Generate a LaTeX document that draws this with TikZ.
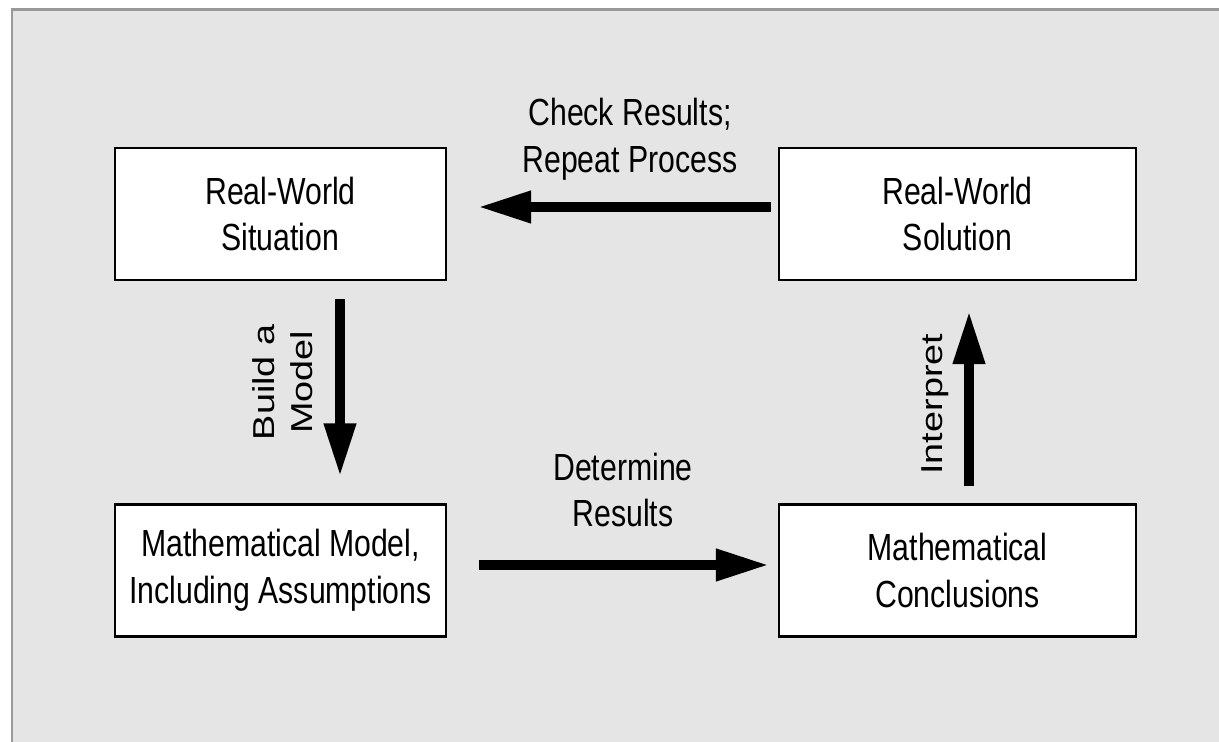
\documentclass[tikz,border=0pt]{standalone}
\usepackage{fontspec}
\usepackage{graphicx}
\setmainfont[FakeStretch=0.8]{Liberation Sans}
\newfontfamily\rotfont{Liberation Sans}
\usetikzlibrary{arrows.meta}
\newcommand{\sidelabel}[1]{\rotatebox{90}{\scalebox{1}[0.8]{\rotfont\fontsize{21.5}{26.5}\selectfont\begin{tabular}{@{}c@{}}#1\end{tabular}}}}

\begin{document}
\begin{tikzpicture}[
  box/.style={draw, line width=1.2pt, fill=white, minimum height=2.64cm, align=center, font=\fontsize{21.5}{26.5}\selectfont},
  bigarrow/.style={line width=0.2cm, -{Triangle[length=1.06cm, width=0.6cm]}},
  txt/.style={inner sep=0pt, align=center, font=\fontsize{21.5}{26.5}\selectfont}
]
\useasboundingbox (0,0) rectangle (24.38,14.84);
\fill[black!10] (0.24,0) rectangle (24.38,14.65);
\draw[black!40, line width=1.4pt] (0.24,0) -- (0.24,14.65) -- (24.38,14.65);

\node[box, minimum width=6.62cm] (sit) at (5.61,10.56) {Real-World\\Situation};
\node[box, minimum width=7.14cm] (sol) at (19.15,10.56) {Real-World\\Solution};
\node[box, minimum width=6.62cm] (model) at (5.61,3.43) {Mathematical Model,\\Including Assumptions};
\node[box, minimum width=7.14cm] (concl) at (19.15,3.43) {Mathematical\\Conclusions};

\draw[bigarrow, shorten <=0.14cm, shorten >=0.62cm] ([yshift=0.14cm]sol.west) -- ([yshift=0.14cm]sit.east)
  node[txt, midway, above=0.44cm, xshift=0.35cm] {Check Results;\\Repeat Process};
\draw[bigarrow, shorten <=0.64cm, shorten >=0.18cm] ([yshift=0.11cm]model.east) -- ([yshift=0.11cm]concl.west)
  node[txt, midway, above=0.66cm, xshift=0.21cm] {Determine\\Results};
\draw[bigarrow, shorten <=0.36cm, shorten >=0.54cm] ([xshift=1.19cm]sit.south) -- ([xshift=1.19cm]model.north)
  node[txt, midway, xshift=-1.08cm, yshift=0.2cm] {\sidelabel{Build a\\Model}};
\draw[bigarrow, shorten <=0.34cm, shorten >=0.6cm] ([xshift=0.23cm]concl.north) -- ([xshift=0.23cm]sol.south)
  node[txt, midway, xshift=-0.67cm, yshift=-0.24cm] {\sidelabel{Interpret}};
\end{tikzpicture}
\end{document}
